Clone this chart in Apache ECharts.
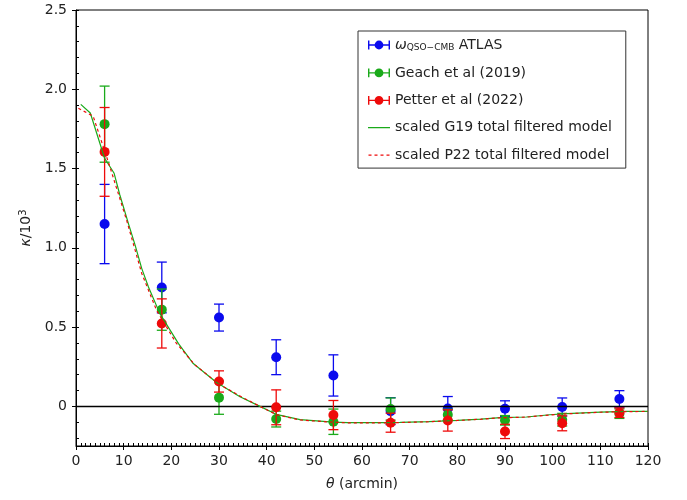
<!DOCTYPE html>
<html>
<head>
<meta charset="utf-8">
<script src="https://cdn.jsdelivr.net/npm/echarts@6/dist/echarts.min.js"></script>
<style>html,body{margin:0;padding:0;background:#fff}#c{width:687px;height:500px}</style>
</head>
<body>
<div id="c"></div>
<script>
// angular bins (arcmin)
const theta = [6, 18, 30, 42, 54, 66, 78, 90, 102, 114];
// ATLAS omega_QSO-CMB
const atlasY   = [1.15, 0.75, 0.56, 0.31, 0.195, -0.03, -0.013, -0.015, -0.004, 0.046];
const atlasErr = [0.25, 0.16, 0.085, 0.11, 0.13, 0.085, 0.075, 0.05, 0.057, 0.053];
// Geach et al (2019)
const geachY   = [1.78, 0.61, 0.055, -0.08, -0.097, -0.017, -0.053, -0.088, -0.084, -0.046];
const geachErr = [0.24, 0.13, 0.105, 0.05, 0.08, 0.07, 0.035, 0.03, 0.04, 0.03];
// Petter et al (2022)
const petterY   = [1.605, 0.523, 0.157, -0.006, -0.055, -0.103, -0.089, -0.158, -0.107, -0.04];
const petterErr = [0.28, 0.155, 0.067, 0.11, 0.092, 0.06, 0.067, 0.045, 0.047, 0.03];
// scaled G19 total filtered model
const g19X = [1, 3, 6, 8, 9.2, 11, 12.4, 13.8, 15.2, 17.6, 21.5, 24.6, 29.5, 34.4, 38.6, 42, 47, 54, 57, 65, 68, 74, 80, 85, 89, 94.5, 99.4, 103, 110, 115.5, 120];
const g19Y = [1.905, 1.85, 1.565, 1.47, 1.333, 1.153, 1.017, 0.869, 0.753, 0.585, 0.396, 0.27, 0.15, 0.061, 0.0, -0.05, -0.084, -0.099, -0.103, -0.103, -0.101, -0.096, -0.088, -0.08, -0.071, -0.067, -0.053, -0.046, -0.036, -0.032, -0.031];
// scaled P22 total filtered model
const p22X = [0.5, 3.6, 7.1, 10.6, 13.8, 16.9, 21, 25, 30, 35, 38.6, 42, 47, 54, 57, 65, 68, 74, 80, 85, 89, 94.5, 99.4, 103, 110, 115.5, 120];
const p22Y = [1.88, 1.83, 1.512, 1.176, 0.838, 0.606, 0.40, 0.26, 0.14, 0.055, 0.0, -0.052, -0.086, -0.1, -0.104, -0.104, -0.102, -0.097, -0.089, -0.081, -0.072, -0.068, -0.054, -0.047, -0.037, -0.033, -0.032];
const yMajor = [0, 0.5, 1.0, 1.5, 2.0, 2.5];
const yMinor = [-0.2, -0.1, 0, 0.1, 0.2, 0.3, 0.4, 0.5, 0.6, 0.7, 0.8, 0.9, 1.0, 1.1, 1.2, 1.3, 1.4, 1.5, 1.6, 1.7, 1.8, 1.9, 2.0, 2.1, 2.2, 2.3, 2.4, 2.5];

const BLUE = '#0a0aee', GREEN = '#1aaa1a', RED = '#ee0a0a';
const FONT = 'DejaVu Sans';
const zip3 = (a, b, c) => a.map((v, i) => [v, b[i], c[i]]);
const zip2 = (a, b) => a.map((v, i) => [v, b[i]]);

function errSeries(name, color, data, z) {
  return {
    name, type: 'custom', xAxisIndex: 0, yAxisIndex: 0, z,
    itemStyle: { color },
    data,
    renderItem: function (params, api) {
      const x = api.value(0), y = api.value(1), e = api.value(2);
      const c = api.coord([x, y]);
      const t = api.coord([x, y + e]);
      const b = api.coord([x, y - e]);
      const hw = 5;
      const st = { stroke: color, lineWidth: 1.3, fill: null };
      return {
        type: 'group', children: [
          { type: 'line', shape: { x1: t[0], y1: t[1], x2: b[0], y2: b[1] }, style: st },
          { type: 'line', shape: { x1: t[0] - hw, y1: t[1], x2: t[0] + hw, y2: t[1] }, style: st },
          { type: 'line', shape: { x1: b[0] - hw, y1: b[1], x2: b[0] + hw, y2: b[1] }, style: st },
          { type: 'circle', shape: { cx: c[0], cy: c[1], r: 5 }, style: { fill: color } }
        ]
      };
    }
  };
}

const errIcon = 'path://M0,1h1.3v8h-1.3z M18.7,1h1.3v8h-1.3z M0,4.4h20v1.2h-20z M10,1A4,4 0 1,1 9.99,1z';
const solidIcon = 'path://M0,0L0.01,0z M0,10L0.01,10z M0,4.4h22v1.2h-22z';
const dashIcon = 'path://M0,0L0.01,0z M0,10L0.01,10z M0,4.4h3v1.2h-3z M6,4.4h3v1.2h-3z M12,4.4h3v1.2h-3z M18,4.4h3v1.2h-3z';

const chart = echarts.init(document.getElementById('c'), null, { renderer: 'canvas' });
chart.setOption({
  animation: false,
  textStyle: { fontFamily: FONT },
  grid: { left: 76, right: 39, top: 10, bottom: 54, show: true, borderColor: '#000', borderWidth: 1, backgroundColor: 'transparent' },
  legend: {
    left: 358, top: 31, orient: 'vertical',
    padding: [7, 14, 6, 10],
    itemGap: 13.4, itemWidth: 22, itemHeight: 10, itemTextGap: 16,
    borderColor: '#333', borderWidth: 1, backgroundColor: '#fff',
    textStyle: {
      fontFamily: FONT, fontSize: 14, color: '#222',
      rich: {
        w: { fontFamily: FONT, fontSize: 14, fontStyle: 'italic', color: '#222' },
        s: { fontFamily: FONT, fontSize: 9, color: '#222', padding: [6, 0, 0, 0] },
        n: { fontFamily: FONT, fontSize: 14, color: '#222' }
      }
    },
    formatter: function (name) {
      if (name === 'ATLAS') return '{w|ω}{s|QSO−CMB}{n| ATLAS}';
      return name;
    },
    data: [
      { name: 'ATLAS', icon: errIcon, itemStyle: { color: BLUE } },
      { name: 'Geach et al (2019)', icon: errIcon, itemStyle: { color: GREEN } },
      { name: 'Petter et al (2022)', icon: errIcon, itemStyle: { color: RED } },
      { name: 'scaled G19 total filtered model', icon: solidIcon, itemStyle: { color: GREEN } },
      { name: 'scaled P22 total filtered model', icon: dashIcon, itemStyle: { color: RED } }
    ]
  },
  xAxis: [
    {
      type: 'value', min: 0, max: 120, interval: 10, position: 'bottom',
      name: '{t|θ} (arcmin)', nameLocation: 'middle', nameGap: 31,
      nameTextStyle: { fontFamily: FONT, fontSize: 14, color: '#222', rich: { t: { fontFamily: FONT, fontSize: 14, fontStyle: 'italic', color: '#222' } } },
      axisLine: { show: true, onZero: false, lineStyle: { color: '#000', width: 1 } },
      axisTick: { show: true, inside: false, length: 4, lineStyle: { color: '#000' } },
      axisLabel: { fontFamily: FONT, fontSize: 14, color: '#222', margin: 8 },
      splitLine: { show: false }
    },
    {
      type: 'value', min: 0, max: 120, interval: 1, position: 'bottom', offset: 0,
      axisLine: { show: false, onZero: false },
      axisTick: { show: true, inside: true, length: 3, lineStyle: { color: '#000' } },
      axisLabel: { show: false },
      splitLine: { show: false }
    }
  ],
  yAxis: [
    {
      type: 'value', min: -0.25, max: 2.5, position: 'left',
      name: '{k|κ}/10{s|3}', nameLocation: 'middle', nameGap: 40, nameRotate: 90,
      nameTextStyle: { fontFamily: FONT, fontSize: 14, color: '#222', rich: {
        k: { fontFamily: FONT, fontSize: 14, fontStyle: 'italic', color: '#222' },
        s: { fontFamily: FONT, fontSize: 10, color: '#222', padding: [0, 0, 7, 0] } } },
      axisLine: { show: true, onZero: false, lineStyle: { color: '#000', width: 1 } },
      axisTick: { show: true, inside: false, length: 4, customValues: yMajor, lineStyle: { color: '#000' } },
      axisLabel: { fontFamily: FONT, fontSize: 14, color: '#222', margin: 9, customValues: yMajor,
        formatter: v => (Math.abs(v) < 1e-9 ? '0' : v.toFixed(1)) },
      splitLine: { show: false }
    },
    {
      type: 'value', min: -0.25, max: 2.5, position: 'left', offset: 0,
      axisLine: { show: false, onZero: false },
      axisTick: { show: true, inside: true, length: 3, customValues: yMinor, lineStyle: { color: '#000' } },
      axisLabel: { show: false },
      splitLine: { show: false }
    }
  ],
  series: [
    {
      name: '__zero', type: 'line', data: [], xAxisIndex: 0, yAxisIndex: 0, z: 1,
      markLine: { silent: true, symbol: 'none', label: { show: false },
        lineStyle: { color: '#000', type: 'solid', width: 1.3 }, data: [{ yAxis: 0 }] }
    },
    errSeries('ATLAS', BLUE, zip3(theta, atlasY, atlasErr), 3),
    errSeries('Geach et al (2019)', GREEN, zip3(theta, geachY, geachErr), 4),
    errSeries('Petter et al (2022)', RED, zip3(theta, petterY, petterErr), 5),
    {
      name: 'scaled G19 total filtered model', type: 'line', xAxisIndex: 0, yAxisIndex: 0, z: 6,
      data: zip2(g19X, g19Y), symbol: 'none', showSymbol: false,
      itemStyle: { color: GREEN },
      lineStyle: { color: GREEN, width: 1.2, type: 'solid' }
    },
    {
      name: 'scaled P22 total filtered model', type: 'line', xAxisIndex: 0, yAxisIndex: 0, z: 7,
      data: zip2(p22X, p22Y), symbol: 'none', showSymbol: false,
      itemStyle: { color: RED },
      lineStyle: { color: RED, width: 1.2, type: [3, 3] }
    }
  ]
});
</script>
</body>
</html>
